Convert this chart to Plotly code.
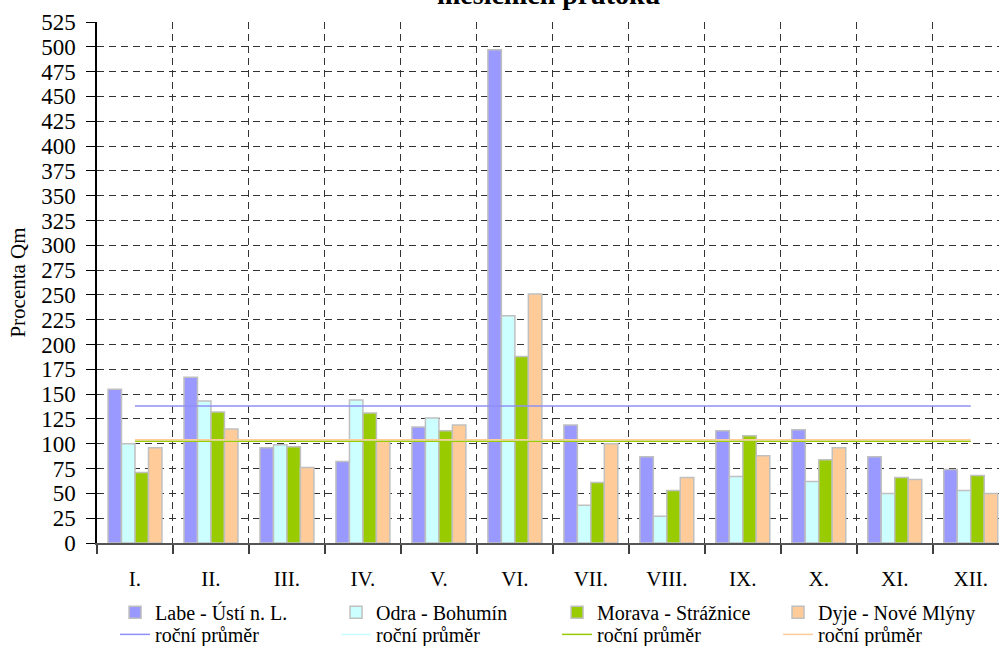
import plotly.graph_objects as go

months = ["I.", "II.", "III.", "IV.", "V.", "VI.", "VII.", "VIII.", "IX.", "X.", "XI.", "XII."]

labe = [155, 167, 96, 82, 117, 497, 119, 87, 113, 114, 87, 74]
odra = [100, 143, 99, 144, 126, 229, 38, 27, 67, 62, 50, 53]
morava = [71, 132, 97, 131, 113, 188, 61, 53, 108, 84, 66, 68]
dyje = [96, 115, 76, 104, 119, 251, 100, 66, 88, 96, 64, 50]

avg_labe = 138
avg_odra = 103
avg_morava = 102.5
avg_dyje = 104

series = [
    ("Labe - Ústí n. L.", labe, avg_labe, "#9999FF", "#8F8FF5"),
    ("Odra - Bohumín", odra, avg_odra, "#CCFFFF", "#CCFFFF"),
    ("Morava - Strážnice", morava, avg_morava, "#99CC00", "#99CC00"),
    ("Dyje - Nové Mlýny", dyje, avg_dyje, "#FFCC99", "#FFCC99"),
]

FONT = "Liberation Serif, Times New Roman, serif"

fig = go.Figure()
for name, vals, avg, fill, lc in series:
    fig.add_trace(go.Bar(
        x=months, y=vals, name=name,
        marker=dict(color=fill, line=dict(color="#C0C0C0", width=1.5)),
        legend="legend",
    ))
for name, vals, avg, fill, lc in series:
    fig.add_trace(go.Scatter(
        x=months, y=[avg] * len(months), name="roční průměr",
        mode="lines", line=dict(color=lc, width=1.5),
        legend="legend2",
    ))

fig.update_layout(
    width=999, height=646,
    margin=dict(l=97, r=0, t=22, b=103, autoexpand=False),
    plot_bgcolor="white", paper_bgcolor="white",
    font=dict(family=FONT, color="black", size=20),
    barmode="group", bargap=0.29, bargroupgap=0,
    showlegend=True,
    legend=dict(orientation="h", x=0.02, xanchor="left", y=-0.1331, yanchor="middle",
                font=dict(size=20, family=FONT), entrywidth=176, entrywidthmode="pixels",
                bgcolor="rgba(0,0,0,0)", traceorder="normal"),
    legend2=dict(orientation="h", x=0.02, xanchor="left", y=-0.1754, yanchor="middle",
                 font=dict(size=20, family=FONT), entrywidth=176, entrywidthmode="pixels",
                 bgcolor="rgba(0,0,0,0)", traceorder="normal"),
    annotations=[dict(
        text="<b>měsíčních průtoků</b>", xref="paper", yref="paper",
        x=0.5, y=1.0192, xanchor="center", yanchor="bottom", showarrow=False,
        font=dict(size=28, family=FONT, color="black"),
    )],
)

fig.update_xaxes(
    type="category", tickson="boundaries", range=[-0.5, 11.372],
    ticks="outside", ticklen=9, tickcolor="#404040", tickwidth=1.5,
    showgrid=True, gridcolor="#333333", gridwidth=1, griddash="7px,5px",
    showline=True, linecolor="#555555", linewidth=2,
    tickfont=dict(size=21, family=FONT), ticklabelstandoff=16,
)
fig.update_yaxes(
    range=[0, 525], dtick=25, tick0=0,
    ticks="outside", ticklen=9, tickcolor="black", tickwidth=1,
    showgrid=True, gridcolor="#333333", gridwidth=1, griddash="7px,5px",
    showline=True, linecolor="black", linewidth=1.5, zeroline=False,
    tickfont=dict(size=23, family=FONT), ticklabelstandoff=6,
    title=dict(text="Procenta Qm", font=dict(size=21, family=FONT), standoff=10),
)

fig.write_html("out.html", config={"displayModeBar": False},
               post_script="document.body.style.margin='0';")
